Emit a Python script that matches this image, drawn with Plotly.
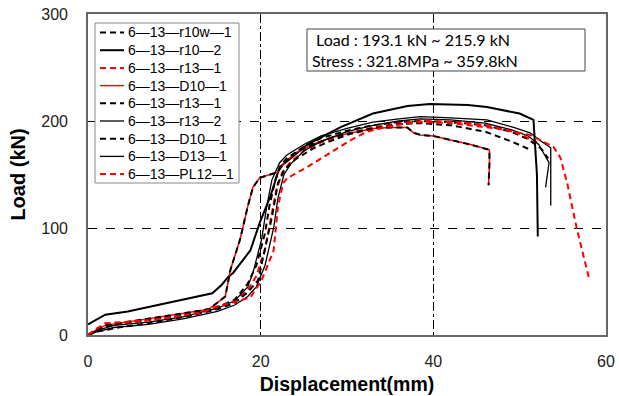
import plotly.graph_objects as go

# ---- data ----
names = ["6—13—r10w—1", "6—13—r10—2", "6—13—r13—1", "6—13—D10—1", "6—13—r13—1",
         "6—13—r13—2", "6—13—D10—1", "6—13—D13—1", "6—13—PL12—1"]

x_r10w1 = [0, 1, 3, 7, 11, 15, 17, 18.5, 19.5, 20.5, 21, 21.7, 22.3, 23, 25, 27, 30, 33, 36, 38.5, 42, 46, 49, 51, 52.5, 53.3]
y_r10w1 = [0, 5, 10, 14, 19, 26, 33, 48, 65, 95, 120, 145, 158, 165, 176, 184, 191, 196, 199, 200, 199, 196, 190, 183, 174, 165]

x_r102 = [0, 2, 4.6, 9.3, 13, 14.4, 15.5, 16.2, 16.8, 18.8, 19.9, 21.1, 22.2, 23, 25.4, 29.2, 33, 37, 39.6, 44, 46.2, 50, 51.6, 52.0, 52.1]
y_r102 = [10, 19, 22, 30, 37, 39, 47, 54, 58, 79, 105, 129, 157, 162, 178, 194, 207, 214, 216, 215, 213, 207, 201, 150, 92]

x_r131r = [0, 1, 2, 6, 11, 15, 17, 18.5, 19.5, 20.5, 21.2, 21.8, 22.5, 23.5, 25, 27, 30, 33, 36, 39, 43, 47, 50, 52]
y_r131r = [0, 5, 10, 13, 18, 25, 32, 42, 55, 80, 108, 135, 152, 162, 172, 180, 188, 194, 198, 200, 199, 195, 188, 180]

x_d101 = [0, 1, 2, 5, 10, 14, 15, 15.9, 16.5, 17.6, 18.5, 19.1, 19.9, 21.9, 23, 24.2, 26, 28, 30, 33, 35, 37, 37.7, 38.5, 40, 42.3, 44.3, 46.5, 46.5, 46.4]
y_d101 = [0, 5, 9, 13, 19, 24, 30, 36, 61, 89, 120, 138, 147, 152, 163, 171, 178, 184, 188, 193, 194, 194, 189, 187, 186, 182, 178, 173, 160, 140]

x_r131k = [0, 1, 3.5, 7, 11.2, 15, 17, 18.5, 19.7, 20.3, 21.3, 22, 22.8, 24, 26, 28, 30, 33, 36, 38.5, 42, 46, 49, 51, 51.1]
y_r131k = [0, 3, 7, 11, 17, 24, 30, 40, 51, 73, 110, 142, 155, 164, 174, 181, 187, 193, 197, 198, 196, 190, 181, 174, 171]

x_r132 = [0, 1, 3, 7, 11, 15, 17, 18.5, 19.1, 20.1, 20.7, 21.3, 22.2, 23, 25, 27, 30, 33, 36, 38.5, 42, 46.2, 49.3, 51.2, 52.7, 53.6, 53.6]
y_r132 = [0, 4, 9, 12, 17, 25, 32, 45, 58, 89, 120, 145, 161, 168, 178, 186, 193, 199, 202, 204, 203, 201, 194, 189, 180, 175, 121]

x_d101k = [0, 1, 2, 5, 10, 14, 15, 15.9, 16.5, 17.6, 18.5, 19.1, 19.9, 21.9, 23, 24.2, 26, 28, 30, 33, 35, 37, 37.7, 38.5, 40, 42.3, 44.3, 46.5, 46.5, 46.4]
y_d101k = [0, 5, 9, 13, 19, 24, 30, 36, 61, 89, 120, 138, 147, 152, 163, 171, 178, 184, 188, 193, 194, 194, 189, 187, 186, 182, 178, 173, 160, 140]

x_d131 = [0, 1, 3, 7, 11, 15, 17, 18.5, 19.5, 20.5, 21.5, 22, 22.7, 23.5, 25, 27, 30, 33, 36, 38.5, 42, 46, 49, 51, 52.2, 53.4, 53.0]
y_d131 = [0, 3, 7, 10, 15, 22, 28, 36, 45, 65, 100, 128, 150, 160, 172, 181, 190, 196, 200, 202, 201, 198, 192, 186, 178, 161, 138]

x_pl121 = [0, 1, 2, 7.4, 13.2, 15, 17, 18.8, 20.1, 21.5, 22, 22.6, 23.2, 23.4, 25.4, 28, 30.4, 32.3, 34.2, 37, 38.5, 42, 47.4, 51.2, 53.9, 54.7, 55.5, 56.6, 58]
y_pl121 = [0, 6, 11, 14, 21, 27, 31, 35, 51, 79, 120, 142, 148, 148, 157, 170, 182, 190, 194, 198, 199, 198, 193, 187, 176, 166, 142, 100, 54]

xs = [x_r10w1, x_r102, x_r131r, x_d101, x_r131k, x_r132, x_d101k, x_d131, x_pl121]
ys = [y_r10w1, y_r102, y_r131r, y_d101, y_r131k, y_r132, y_d101k, y_d131, y_pl121]

x_ticks = [0, 20, 40, 60]
y_ticks = [0, 100, 200, 300]

note_text = " Load : 193.1 kN ~ 215.9 kN<br>Stress : 321.8MPa ~ 359.8kN"

DASH = "6px,4px"
styles = [
    dict(color="black", dash=DASH, width=2),
    dict(color="black", dash="solid", width=2),
    dict(color="#ff0000", dash=DASH, width=2),
    dict(color="#ff0000", dash="solid", width=1.5),
    dict(color="black", dash=DASH, width=2),
    dict(color="black", dash="solid", width=1.3),
    dict(color="black", dash=DASH, width=2),
    dict(color="black", dash="solid", width=1.3),
    dict(color="#ff0000", dash=DASH, width=2),
]

W, H = 619, 396
ML, MR, MT, MB = 88, 13, 14, 61
PW, PH = W - ML - MR, H - MT - MB


def px(xp):
    return (xp - ML) / PW


def py(yp):
    return (H - MB - yp) / PH


fig = go.Figure()
for n, x, y, s in zip(names, xs, ys, styles):
    fig.add_trace(go.Scatter(x=x, y=y, mode="lines", name=n, line=s, showlegend=False))

fig.update_layout(
    width=W, height=H,
    margin=dict(l=ML, r=MR, t=MT, b=MB),
    paper_bgcolor="white", plot_bgcolor="white",
    font=dict(family="Liberation Sans, Arial, sans-serif", color="#222"),
    showlegend=False,
)
fig.update_xaxes(range=[0, 60], tickvals=x_ticks, showgrid=True, automargin=False,
                 gridcolor="black", griddash="dashdot", gridwidth=1,
                 zeroline=False, showline=True, mirror=True, linecolor="#666", linewidth=1.6,
                 ticks="outside", ticklen=11, tickcolor="rgba(0,0,0,0)",
                 tickfont=dict(size=16, color="#222"),
                 title=dict(text="<b>Displacement(mm)</b>", font=dict(size=19.5, color="black"), standoff=8))
fig.update_yaxes(range=[0, 300], tickvals=y_ticks, showgrid=True, automargin=False,
                 gridcolor="black", griddash="dash", gridwidth=1,
                 zeroline=False, showline=True, mirror=True, linecolor="#666", linewidth=1.6,
                 ticks="outside", ticklen=15, tickcolor="rgba(0,0,0,0)",
                 tickfont=dict(size=16, color="#222"),
                 title=dict(text="<b>Load (kN)</b>", font=dict(size=20, color="black"), standoff=10))

# ---- hand-built legend box ----
fig.add_shape(type="rect", xref="paper", yref="paper",
              x0=px(95), x1=px(239), y0=py(183), y1=py(23),
              line=dict(color="#888", width=1), fillcolor="white", layer="above")
row0, step = 32.5, 17.7
for i, (n, s) in enumerate(zip(names, styles)):
    yc = row0 + i * step
    fig.add_shape(type="line", xref="paper", yref="paper",
                  x0=px(100), x1=px(124), y0=py(yc), y1=py(yc),
                  line=dict(color=s["color"], dash=s["dash"], width=min(s["width"], 2)),
                  layer="above")
    fig.add_annotation(xref="paper", yref="paper", x=px(126), y=py(yc),
                       xanchor="left", yanchor="middle", showarrow=False, text=n,
                       font=dict(family="Liberation Sans, Arial, sans-serif", size=14, color="black"))

# ---- note box ----
fig.add_shape(type="rect", xref="paper", yref="paper",
              x0=px(307), x1=px(585), y0=py(71), y1=py(29),
              line=dict(color="#444", width=1), fillcolor="white", layer="above")
fig.add_annotation(xref="paper", yref="paper", x=px(310), y=py(50),
                   xanchor="left", yanchor="middle", align="left", showarrow=False,
                   text=note_text,
                   font=dict(family="Lato, Open Sans, sans-serif", size=16, color="black"))

fig.write_html("out.html", config={"displayModeBar": False},
               post_script="document.body.style.margin='0px';document.body.style.overflow='hidden';")
